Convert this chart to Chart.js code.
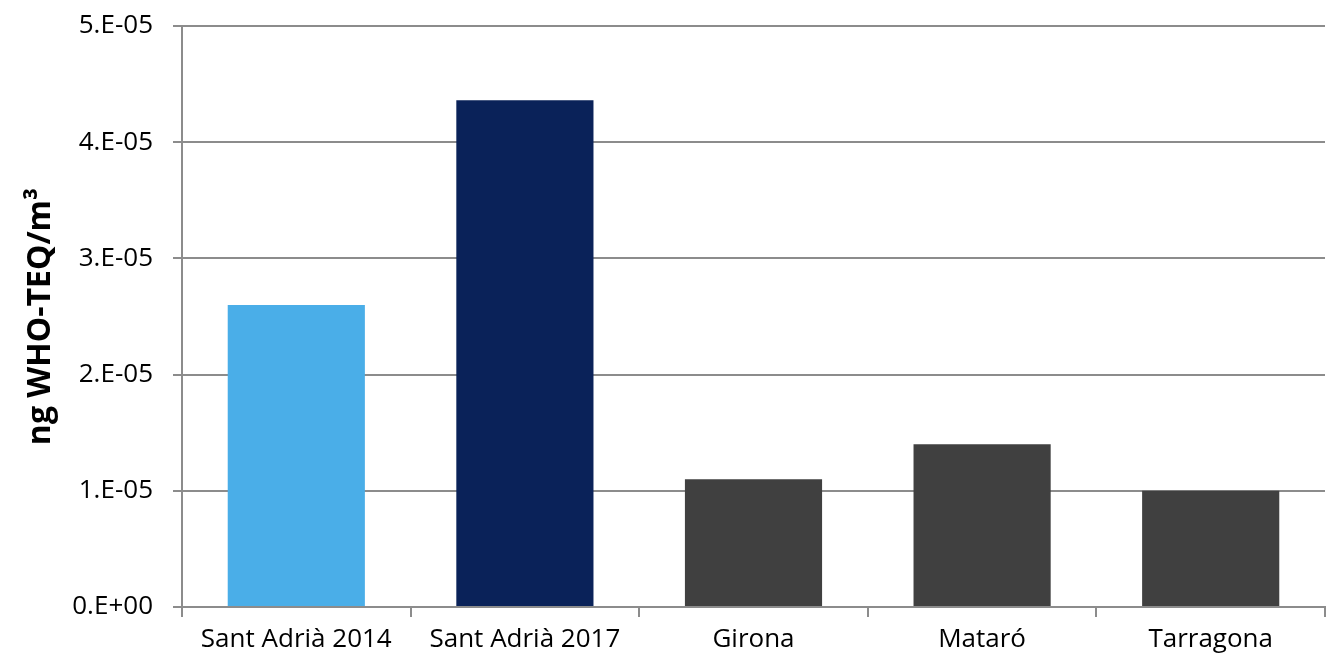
<!DOCTYPE html>
<html>
<head>
<meta charset="utf-8">
<script src="https://cdn.jsdelivr.net/npm/chart.js@4"></script>
<style>
  html, body { margin: 0; padding: 0; background: #fff; }
  #wrap { width: 1330px; height: 664px; }
</style>
</head>
<body>
<div id="wrap"><canvas id="grafico" width="1330" height="664"></canvas></div>
<script>
// dados
const categorias = ['Sant Adrià 2014', 'Sant Adrià 2017', 'Girona', 'Mataró', 'Tarragona'];
const valores = [2.6e-5, 4.36e-5, 1.1e-5, 1.4e-5, 1.0e-5];
const cores = ['#4aaee8', '#0a2259', '#404040', '#404040', '#404040'];
const rotulosY = ['0.E+00', '1.E-05', '2.E-05', '3.E-05', '4.E-05', '5.E-05'];
const tituloY = 'ng WHO-TEQ/m³';

const cinza = '#8c8c8c';
const fonte = "'Open Sans', 'Noto Sans', sans-serif";

const ctx = document.getElementById('grafico').getContext('2d');
new Chart(ctx, {
    type: 'bar',
    data: {
        labels: categorias,
        datasets: [{
            data: valores,
            backgroundColor: cores,
            borderWidth: 0,
            barPercentage: 0.6,
            categoryPercentage: 1.0
        }]
    },
    options: {
        responsive: false,
        animation: false,
        layout: { padding: { top: 26, right: 5, left: 0, bottom: 0 } },
        plugins: {
            legend: { display: false },
            tooltip: { enabled: false }
        },
        scales: {
            x: {
                grid: { offset: true, drawOnChartArea: false, color: cinza, lineWidth: 2, tickLength: 10 },
                border: { color: cinza, width: 2 },
                ticks: { color: '#000', font: { family: fonte, size: 26 }, padding: 7, maxRotation: 0 },
                afterFit: function(scale) { scale.height = 57; scale.paddingLeft = 0; scale.paddingRight = 0; }
            },
            y: {
                min: 0,
                max: 5e-5,
                ticks: {
                    stepSize: 1e-5,
                    color: '#000',
                    font: { family: fonte, size: 26 },
                    padding: 20,
                    callback: function(valor, indice) { return rotulosY[indice]; }
                },
                grid: { color: cinza, lineWidth: 2, tickLength: 9 },
                border: { color: cinza, width: 2 },
                title: {
                    display: true,
                    text: tituloY,
                    color: '#000',
                    font: { family: fonte, size: 32, weight: 'bold' },
                    padding: { top: 22, bottom: 4 }
                },
                afterFit: function(scale) { scale.width = 182; scale.paddingTop = 0; scale.paddingBottom = 0; }
            }
        }
    }
});
</script>
</body>
</html>
